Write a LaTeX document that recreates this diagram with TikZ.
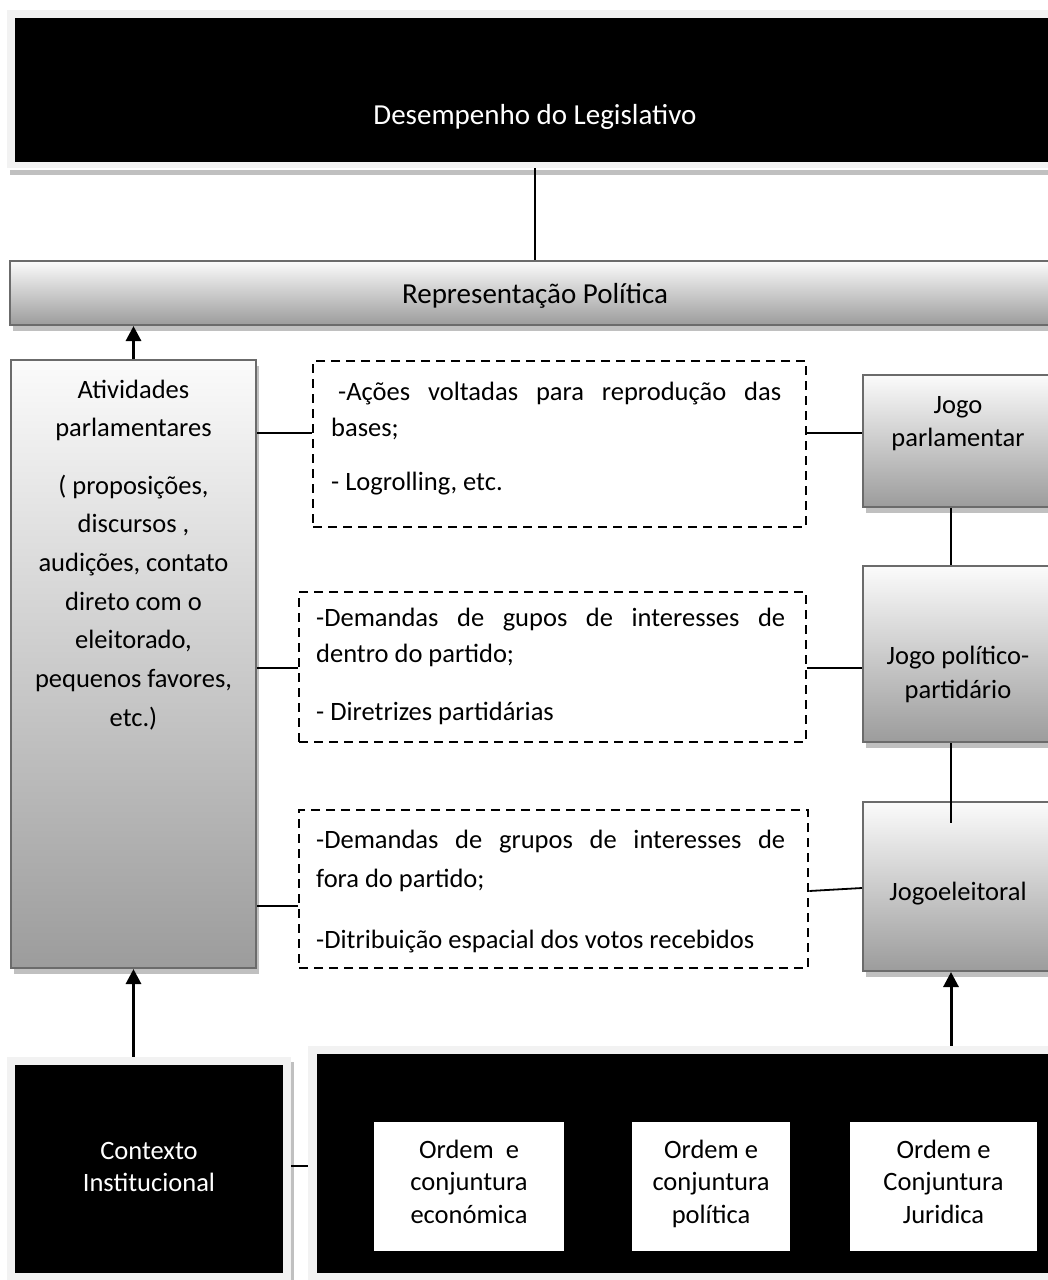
\documentclass[tikz,border=0pt]{standalone}
\usepackage{fontspec}
\setmainfont{Carlito}
\usetikzlibrary{arrows.meta,fit,shadows}
\hyphenpenalty=10000
\exhyphenpenalty=10000
\tolerance=10000
\definecolor{framegray}{HTML}{F2F2F2}
\definecolor{shadowgray}{HTML}{C0C0C0}
\definecolor{edgegray}{HTML}{6B6B6B}
\definecolor{shadetop}{HTML}{FBFBFB}
\definecolor{shadebot}{HTML}{9C9C9C}
\tikzset{
  gbox/.style={draw=edgegray, line width=2pt, top color=shadetop, bottom color=shadebot,
    inner sep=0pt, drop shadow={shadow xshift=3pt, shadow yshift=-6pt, fill=shadowgray, opacity=1}},
  framebox/.style={fill=framegray, inner sep=0pt},
  blackbox/.style={fill=black, inner sep=0pt},
  wbox/.style={fill=white, inner sep=0pt},
  dbox/.style={draw=black, line width=2.6pt, dash pattern=on 9pt off 6pt, inner sep=0pt},
  conn/.style={draw=black, line width=1.8pt},
  arr/.style={draw=black, line width=3pt, -{Triangle[width=15pt,length=15pt]}},
  lbl/.style={inner sep=0pt, anchor=base, align=flush center, font=\fontsize{26.5}{33}\selectfont},
  head/.style={inner sep=0pt, anchor=base, font=\fontsize{29}{35}\selectfont},
  para/.style={inner sep=0pt, anchor=base west, align=justify, font=\fontsize{26.5}{36}\selectfont},
}
\begin{document}
\begin{tikzpicture}[x=1pt,y=-1pt]
\useasboundingbox (0,0) rectangle (1048,1280);
\clip (0,0) rectangle (1048,1280);

% ---- top: legislative performance
\node[framebox, fit={(7,10)(1070,168)}] (perf) {};
\node[blackbox, fit={(15,18)(1070,162)}] (perf-in) {};
\fill[shadowgray] (10,170) rectangle (1070,175);
\node[head, text=white] (perf-t) at (535,124) {Desempenho do Legislativo};

% ---- political representation
\node[gbox, fit={(10,261)(1070,325)}] (rep) {};
\node[head] (rep-t) at (535,303) {Representação Política};

% ---- parliamentary activities
\node[gbox, fit={(11,360)(256,968)}] (ativ) {};
\node[lbl, text width=240, font=\fontsize{26.5}{38}\selectfont] (ativ-t1) at (133.5,398) {Atividades\\parlamentares};
\node[lbl, text width=240, font=\fontsize{26.5}{38.7}\selectfont] (ativ-t2) at (133.5,494)
  {( proposições,\\discursos ,\\audições, contato\\direto com o\\eleitorado,\\pequenos favores,\\etc.)};

% ---- dashed description boxes
\node[dbox, fit={(313,361)(806,527)}] (d1) {};
\node[para, text width=450] (d1-a) at (331,400) {\hspace*{7pt}-Ações voltadas para reprodução das\linebreak bases;};
\node[para, text width=450] (d1-b) at (331,490) {- Logrolling, etc.};

\node[dbox, fit={(299,592)(806,742)}] (d2) {};
\node[para, text width=469] (d2-a) at (316,626) {-Demandas de gupos de interesses de\linebreak dentro do partido;};
\node[para, text width=469] (d2-b) at (316,720) {- Diretrizes partidárias};

\node[dbox, fit={(299,810)(808,968)}] (d3) {};
\node[para, text width=469, font=\fontsize{26.5}{39}\selectfont] (d3-a) at (316,848) {-Demandas de grupos de interesses de\linebreak fora do partido;};
\node[para, text width=469] (d3-b) at (316,948) {-Ditribuição espacial dos votos recebidos};

% ---- games
\node[gbox, fit={(863,375)(1070,507)}] (jparl) {};
\node[lbl, text width=190] (jparl-t) at (958,413) {Jogo\\parlamentar};
\node[gbox, fit={(863,566)(1070,742)}] (jpp) {};
\node[lbl, text width=190, font=\fontsize{26.5}{34}\selectfont] (jpp-t) at (958,664) {Jogo político-\\partidário};
\node[gbox, fit={(863,802)(1070,971)}] (jel) {};
\node[lbl] (jel-t) at (958,900) {Jogoeleitoral};

% ---- institutional context
\node[framebox, fit={(7,1057)(291,1290)}] (ctx) {};
\node[blackbox, fit={(15,1065)(283,1273)}] (ctx-in) {};
\fill[shadowgray] (291,1062) rectangle (294,1290);
\node[lbl, text=white, text width=260, font=\fontsize{26.5}{32}\selectfont] (ctx-t) at (149,1159) {Contexto\\Institucional};

% ---- orders and conjunctures
\node[framebox, fit={(308,1046)(1070,1290)}] (ord) {};
\node[blackbox, fit={(317,1054)(1070,1273)}] (ord-in) {};
\node[wbox, fit={(374,1122)(564,1251)}] (eco) {};
\node[wbox, fit={(632,1122)(790,1251)}] (pol) {};
\node[wbox, fit={(850,1122)(1037,1251)}] (jur) {};
\node[lbl, text width=190, font=\fontsize{26.5}{32.5}\selectfont] (eco-t) at (469,1158) {Ordem\ \ e\\conjuntura\\económica};
\node[lbl, text width=158, font=\fontsize{26.5}{32.5}\selectfont] (pol-t) at (711,1158) {Ordem e\\conjuntura\\política};
\node[lbl, text width=187, font=\fontsize{26.5}{32.5}\selectfont] (jur-t) at (943.5,1158) {Ordem e\\Conjuntura\\Juridica};

% ---- connectors
\coordinate (y1) at (0,433);
\coordinate (y2) at (0,668);
\coordinate (y3) at (0,906);
\coordinate (y3r) at (0,891);
\coordinate (y3j) at (0,888);
\coordinate (y4) at (0,1166);
\coordinate (jx) at (951,0);
\coordinate (jel-in) at (951,823);

\draw[conn] (perf-t |- perf.south) -- (perf-t |- rep.north);
\draw[arr] (ativ.north) -- (ativ.north |- rep.south);
\draw[arr] (ativ.south |- ctx.north) -- (ativ.south);

\draw[conn] (ativ.east |- y1) -- (d1.west |- y1);
\draw[conn] (d1.east |- y1) -- (jparl.west |- y1);
\draw[conn] (ativ.east |- y2) -- (d2.west |- y2);
\draw[conn] (d2.east |- y2) -- (jpp.west |- y2);
\draw[conn] (ativ.east |- y3) -- (d3.west |- y3);
\draw[conn] (d3.east |- y3r) -- (jel.west |- y3j);

\draw[conn] (jparl.south -| jx) -- (jpp.north -| jx);
\draw[conn] (jpp.south -| jx) -- (jel-in);
\draw[arr] (ord.north -| jx) -- (jel.south -| jx);

\draw[conn] (ctx.east |- y4) -- (ord.west |- y4);
\end{tikzpicture}
\end{document}
